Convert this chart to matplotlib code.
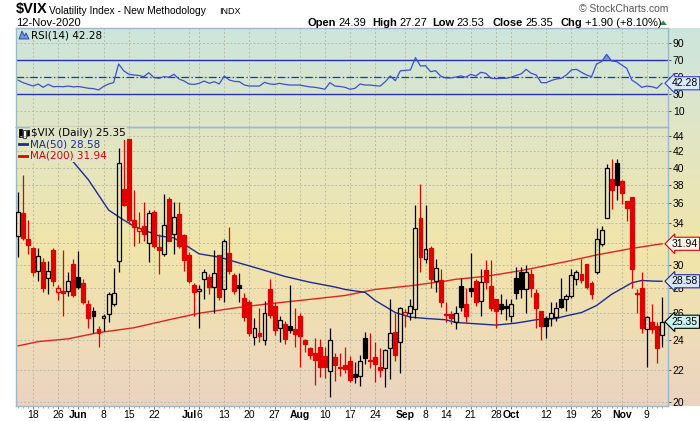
# -*- coding: utf-8 -*-
# $VIX daily candles with RSI(14), MA(50) and MA(200), StockCharts style

import numpy as np
import pandas as pd
import matplotlib
matplotlib.use('Agg')
import matplotlib.pyplot as plt
from matplotlib.ticker import FixedLocator, FixedFormatter, NullLocator

# trading days on the chart (13-May-2020 .. 12-Nov-2020)
holidays = ['2020-05-25', '2020-07-03', '2020-09-07']
days = pd.bdate_range('2020-05-13', '2020-11-12')
days = days[~days.isin(pd.to_datetime(holidays))]

opens = [32.7, 35.0, 32.4, 31.5, 29.5, 30.3, 28.9, 31.4, 27.7, 27.75,
         27.8, 30.1, 28.95, 28.4, 26.75, 26.2, 24.8, 25.6, 25.95, 26.75,
         30.35, 37.6, 43.6, 34.3, 33.2, 33.7, 32.0, 35.1, 31.6, 31.0,
         36.5, 32.9, 34.9, 32.8, 30.9, 28.3, 27.8, 28.8, 28.95, 28.1,
         30.9, 27.9, 31.1, 29.1, 28.3, 27.2, 26.9, 24.2, 24.55, 24.0,
         27.9, 26.6, 24.85, 25.2, 25.07, 24.8, 25.75, 24.05, 23.45, 23.1,
         23.5, 22.9, 21.9, 22.85, 22.2, 22.3, 22.55, 21.7, 21.6, 24.15,
         22.6, 22.85, 22.15, 22.1, 23.45, 24.6, 23.85, 25.9, 26.05, 26.3,
         34.5, 30.5, 31.55, 28.6, 28.7, 25.9, 25.95, 25.3, 28.15, 26.7,
         28.05, 28.6, 26.95, 29.55, 28.2, 27.15, 26.75, 26.6, 25.75, 28.9,
         29.35, 27.95, 29.2, 27.6, 26.2, 25.6, 25.6, 25.7, 27.1, 27.15,
         27.35, 28.8, 29.2, 30.1, 28.45, 29.35, 31.9, 34.5, 38.7, 40.6,
         38.5, 36.3, 36.7, 27.6, 28.0, 24.8, 25.35, 25.07, 24.39]
highs = [37.2, 39.2, 34.3, 31.6, 31.5, 30.6, 30.35, 31.5, 28.3, 31.4,
         29.4, 30.5, 31.25, 28.8, 27.0, 26.45, 25.07, 25.95, 27.7, 29.7,
         42.4, 43.6, 43.6, 37.5, 35.1, 36.2, 35.3, 35.3, 32.85, 37.0,
         36.7, 36.2, 36.2, 32.85, 31.2, 28.45, 28.3, 29.65, 29.2, 31.4,
         30.9, 32.4, 33.6, 29.3, 29.3, 27.6, 27.0, 25.65, 26.4, 26.95,
         28.8, 26.9, 25.75, 25.4, 28.3, 26.4, 26.05, 24.1, 23.5, 24.15,
         24.1, 23.5, 24.9, 23.1, 23.1, 23.5, 22.9, 22.5, 23.0, 24.6,
         24.5, 23.85, 23.45, 23.35, 27.15, 26.05, 26.5, 26.35, 27.1, 35.85,
         38.15, 35.85, 31.7, 30.5, 29.6, 26.9, 26.2, 26.6, 28.9, 28.05,
         31.1, 28.8, 29.65, 30.4, 30.4, 27.15, 27.5, 27.15, 27.15, 29.8,
         29.8, 29.95, 29.65, 27.95, 26.2, 25.75, 26.9, 26.9, 28.9, 27.55,
         29.6, 29.55, 30.5, 30.1, 28.6, 33.5, 33.7, 40.5, 41.0, 41.0,
         38.6, 36.3, 36.7, 27.95, 29.35, 25.75, 26.75, 25.3, 27.27]
lows = [30.7, 32.3, 31.0, 29.0, 28.6, 27.65, 27.55, 28.2, 27.0, 25.8,
        27.4, 27.3, 27.95, 26.7, 24.9, 24.5, 23.5, 24.7, 25.3, 26.6,
        29.4, 35.7, 33.9, 31.7, 32.0, 32.2, 30.3, 31.5, 29.2, 30.8,
        32.2, 31.0, 31.5, 29.5, 28.4, 25.8, 24.85, 27.15, 27.5, 26.05,
        27.0, 26.85, 29.2, 27.5, 26.9, 25.4, 24.3, 23.65, 23.85, 23.65,
        25.6, 24.4, 23.9, 23.7, 24.55, 23.5, 22.15, 23.2, 22.7, 21.0,
        21.5, 21.45, 20.3, 21.3, 21.6, 21.8, 21.2, 21.15, 20.95, 22.4,
        22.1, 21.2, 21.5, 20.9, 21.4, 22.6, 21.8, 24.95, 25.5, 25.6,
        29.35, 30.2, 28.05, 27.7, 26.5, 25.3, 25.2, 24.8, 26.2, 25.3,
        27.3, 26.6, 25.8, 27.95, 26.2, 24.85, 25.95, 25.5, 25.3, 27.15,
        27.2, 26.05, 27.3, 24.85, 24.0, 24.15, 25.07, 25.4, 26.4, 26.2,
        27.2, 28.3, 28.45, 27.9, 27.15, 29.2, 31.7, 34.5, 35.45, 36.35,
        35.95, 34.2, 28.0, 26.05, 24.55, 22.2, 24.5, 22.45, 23.53]
closes = [35.1, 32.5, 31.8, 29.4, 30.8, 28.0, 29.5, 28.6, 28.05, 27.6,
          28.6, 27.45, 28.1, 26.85, 25.6, 25.75, 24.55, 25.8, 27.55, 27.6,
          40.6, 35.85, 34.3, 33.6, 33.45, 32.9, 35.0, 31.7, 31.35, 33.8,
          32.25, 34.6, 31.7, 30.4, 28.6, 27.7, 27.95, 29.4, 28.1, 29.25,
          27.3, 32.2, 29.5, 27.75, 28.0, 25.7, 24.5, 24.85, 24.3, 26.05,
          25.85, 24.75, 25.45, 24.1, 24.75, 24.45, 24.3, 23.75, 23.0, 22.65,
          22.2, 22.15, 24.05, 22.3, 22.13, 22.05, 21.35, 21.5, 22.55, 22.75,
          22.55, 22.4, 22.0, 23.3, 24.5, 22.95, 26.4, 26.1, 26.6, 33.5,
          30.7, 31.45, 28.8, 29.7, 26.85, 25.85, 25.6, 26.05, 26.45, 25.8,
          27.75, 26.85, 28.55, 28.5, 26.4, 26.2, 26.3, 26.4, 26.7, 27.6,
          27.95, 29.4, 28.05, 26.4, 25.0, 25.05, 26.05, 26.4, 26.5, 27.4,
          29.1, 29.35, 28.65, 28.1, 27.55, 32.35, 33.3, 40.0, 37.5, 38.0,
          37.1, 35.5, 29.6, 27.55, 24.85, 25.7, 24.8, 23.45, 25.35]

ma50_idx = [6, 11, 14, 18, 20, 23, 28, 31, 34, 36, 40, 43, 48, 53, 58, 63, 65, 69,
            71, 75, 78, 81, 85, 87, 91, 95, 99, 103, 107, 109, 112, 115, 118, 122,
            124, 126, 128]
ma50_val = [45.3, 40.7, 38.6, 35.3, 34.6, 33.65, 32.7, 32.5, 31.6, 31.0, 30.7, 30.3,
            29.65, 29.0, 28.5, 28.1, 27.9, 27.65, 27.0, 26.05, 25.7, 25.6, 25.5, 25.3,
            25.2, 25.1, 25.25, 25.5, 25.6, 25.8, 26.05, 26.6, 27.5, 28.45, 28.65, 28.6,
            28.58]
ma200_idx = [0, 4, 10, 16, 23, 30, 36, 43, 49, 56, 65, 71, 78, 85, 87, 93, 100, 109,
             115, 122, 128]
ma200_val = [23.6, 23.9, 24.1, 24.55, 24.9, 25.5, 26.0, 26.4, 26.7, 27.0, 27.4, 27.9,
             28.2, 28.6, 28.75, 29.0, 29.5, 30.3, 30.9, 31.5, 31.94]

rsi = [46, 43, 41, 39, 41.4, 37.5, 41, 38.2, 38.5, 38.2,
       39, 38, 38.5, 37.5, 36.4, 36, 34.4, 38.5, 41.4, 43,
       65, 57, 53, 52, 51.5, 50, 54.7, 49, 48.1, 50,
       49.5, 52.8, 47.3, 45, 41.4, 41, 42.2, 44.9, 42.2, 44.1,
       41.5, 50.8, 46.1, 44.5, 44.1, 40.2, 39, 39, 39, 43.4,
       41.5, 41, 42.2, 41, 40.2, 40.2, 40.2, 39, 38, 37.5,
       36.5, 35.2, 43, 39, 38.5, 37.5, 35.2, 36.4, 41.4, 40.2,
       40.2, 39.4, 39, 44.1, 50.8, 45.3, 57, 57.5, 57.9, 72.4,
       62.6, 63, 55.9, 57, 50.8, 48.5, 48.5, 49.5, 51, 49.3,
       52.8, 50.8, 55.2, 54, 48.1, 47.8, 48, 48.1, 49.3, 51.5,
       53.2, 58.7, 54, 52, 43, 43, 45.5, 47.3, 48.1, 52,
       57.9, 58.7, 55.2, 52, 50, 65, 67.7, 76.3, 68.5, 67.7,
       63.8, 59.9, 46.1, 42.2, 37.5, 39, 38.2, 36.4, 42.28]

date_ticks = ['2020-05-18', '2020-05-26', '2020-06-01', '2020-06-08', '2020-06-15',
              '2020-06-22', '2020-07-01', '2020-07-06', '2020-07-13', '2020-07-20',
              '2020-07-27', '2020-08-03', '2020-08-10', '2020-08-17', '2020-08-24',
              '2020-09-01', '2020-09-08', '2020-09-14', '2020-09-21', '2020-09-28',
              '2020-10-01', '2020-10-12', '2020-10-19', '2020-10-26', '2020-11-02',
              '2020-11-09']
date_labels = ['18', '26', 'Jun', '8', '15', '22', 'Jul', '6', '13', '20', '27', 'Aug',
               '10', '17', '24', 'Sep', '8', '14', '21', '28', 'Oct', '12', '19', '26',
               'Nov', '9']
months = ['Jun', 'Jul', 'Aug', 'Sep', 'Oct', 'Nov']
price_ticks = [20, 22, 24, 26, 28, 30, 32, 34, 36, 38, 40, 42, 44]
rsi_ticks = [10, 30, 50, 70, 90]

W, H = 700, 421
RED = '#e00000'
NAVY = '#1c2a96'
SPINE = '#9db8c6'
GRID = '#bdbba4'
SANS = 'Liberation Sans'


def fx(px):
    return px / W


def fy(py):
    return 1 - py / H


fig = plt.figure(figsize=(W / 100, H / 100), dpi=100)

# background gradient (teal -> yellow -> peach)
ax_bg = fig.add_axes([fx(16), fy(406), (W - 16) / W, (406 - 28) / H], zorder=0)
rows = np.arange(28, 406)
stop_y = [28, 126, 250, 330, 406]
stop_c = np.array([[204, 229, 221], [224, 229, 198], [241, 229, 170],
                   [239, 221, 182], [235, 211, 194]]) / 255.0
grad = np.stack([np.interp(rows, stop_y, stop_c[:, k]) for k in range(3)], axis=1)
ax_bg.imshow(grad[:, None, :], aspect='auto', extent=[0, 1, 0, 1])
ax_bg.axis('off')

ax_rsi = fig.add_axes([fx(16), fy(126.5), 652 / W, (126.5 - 28) / H], zorder=1)
ax = fig.add_axes([fx(16), fy(406), 652 / W, (406 - 126.5) / H], zorder=1)

n = len(closes)
x = np.arange(n)
o = np.array(opens)
h = np.array(highs)
l = np.array(lows)
c = np.array(closes)
tick_pos = [days.get_loc(pd.Timestamp(d)) for d in date_ticks]

for a in (ax, ax_rsi):
    a.set_facecolor('none')
    a.set_xlim(-0.4, 129.2)
    for s in a.spines.values():
        s.set_color(SPINE)
        s.set_linewidth(1.0)
    a.set_xticks(tick_pos)
    a.set_xticks(x, minor=True)
    a.grid(True, axis='x', which='major', color=GRID, linestyle=(0, (2, 2)), lw=0.7)
    a.yaxis.tick_right()
    a.tick_params(axis='y', which='both', length=2, width=0.7, color='#555555',
                  pad=1.5, labelsize=7.5)

# ---- RSI panel ----
rsi_arr = np.array(rsi)
ax_rsi.set_ylim(-8.6, 107.3)
ax_rsi.yaxis.set_major_locator(FixedLocator(rsi_ticks))
ax_rsi.yaxis.set_major_formatter(FixedFormatter([str(v) for v in rsi_ticks]))
ax_rsi.grid(True, axis='y', color=GRID, linestyle=(0, (2, 2)), lw=0.7)
ax_rsi.tick_params(axis='x', which='both', length=0, labelbottom=False)
ax_rsi.axhline(70, color='#2233bb', lw=1.0)
ax_rsi.axhline(30, color='#2233bb', lw=1.0)
ax_rsi.axhline(50, color='#2233bb', lw=0.9, linestyle=(0, (6, 2, 1, 2)))
ax_rsi.fill_between(x, rsi_arr, 70, where=rsi_arr > 70, interpolate=True,
                    color='#6c9bd6', lw=0)
ax_rsi.plot(x, rsi_arr, color='#3b4fd4', lw=0.9)
for t in ax_rsi.get_yticklabels():
    t.set_family(SANS)

# ---- price panel ----
ax.set_yscale('log')
ax.set_ylim(19.75, 45.21)
ax.yaxis.set_major_locator(FixedLocator(price_ticks))
ax.yaxis.set_major_formatter(FixedFormatter([str(v) for v in price_ticks]))
ax.yaxis.set_minor_locator(NullLocator())
ax.grid(True, axis='y', which='major', color=GRID, linestyle=(0, (2, 2)), lw=0.7)
ax.tick_params(axis='x', which='major', length=2, width=0.7, color='#777777',
               labelsize=7.5, pad=0.8)
ax.tick_params(axis='x', which='minor', length=1.5, width=0.6, color='#999999')
ax.set_xticklabels(date_labels)
for t in ax.get_xticklabels():
    t.set_family(SANS)
    if t.get_text() in months:
        t.set_fontweight('bold')
for t in ax.get_yticklabels():
    t.set_family(SANS)

ax.plot(ma200_idx, ma200_val, color='#e42222', lw=1.0, zorder=2)
ax.plot(ma50_idx, ma50_val, color=NAVY, lw=1.0, zorder=2)

prev = np.r_[c[0], c[:-1]]
col = np.where(c >= prev, 'black', RED)
hollow = c > o
top = np.maximum(o, c)
bot = np.minimum(o, c)
ax.vlines(x, top, h, colors=col, lw=0.9, zorder=3)
ax.vlines(x, l, bot, colors=col, lw=0.9, zorder=3)
face = [('none' if hl else cc) for hl, cc in zip(hollow, col)]
ax.bar(x, np.maximum(top - bot, 0.06), bottom=bot, width=0.78, color=face,
       edgecolor=list(col), linewidth=0.9, zorder=3)

# legend rows (opaque, like the original)
leg_bg = '#e0e4c6'
leg_font = dict(family='DejaVu Sans', fontsize=7.5, va='center', ha='left',
                zorder=5)
fig.text(fx(31), fy(133.5), '$VIX (Daily) 25.35', color='black',
         bbox=dict(facecolor=leg_bg, edgecolor='none', pad=1.0), **leg_font)
fig.text(fx(30), fy(144.5), 'MA(50) 28.58', color=NAVY,
         bbox=dict(facecolor=leg_bg, edgecolor='none', pad=1.0), **leg_font)
fig.text(fx(30), fy(155.5), 'MA(200) 31.94', color=RED,
         bbox=dict(facecolor=leg_bg, edgecolor='none', pad=1.0), **leg_font)
fig.add_artist(plt.Line2D([fx(19), fx(28)], [fy(144.5), fy(144.5)], color=NAVY, lw=2))
fig.add_artist(plt.Line2D([fx(19), fx(28)], [fy(155.5), fy(155.5)], color=RED, lw=2))
fig.text(fx(31), fy(35), 'RSI(14) 42.28', color='black', family='DejaVu Sans',
         fontsize=7.5, va='center', ha='left')

# small panel icons
for xi, y0, y1, fill in [(20.5, 129, 137, True), (24.5, 130, 138, False), (28.0, 130, 136, True)]:
    fig.add_artist(plt.Rectangle((fx(xi - 1.2), fy(y1)), 2.4 / W, (y1 - y0) / H,
                                 facecolor='black' if fill else 'white',
                                 edgecolor='black', lw=0.5))
fig.add_artist(plt.Polygon([[fx(19), fy(39)], [fx(22), fy(31)], [fx(24.5), fy(36)],
                            [fx(26), fy(33)], [fx(29), fy(39)]],
                           facecolor='#6c9bd6', edgecolor='#2233bb', lw=0.6))

# value tags on the right edge
tag = dict(ha='left', va='center', fontsize=7.5, family=SANS, zorder=6, clip_on=False)
ax_rsi.text(1.006, 42.28, '42.28', transform=ax_rsi.get_yaxis_transform(),
            bbox=dict(boxstyle='larrow,pad=0.15', facecolor='#dbe8f8',
                      edgecolor='#3344cc', lw=0.8), **tag)
ax.text(1.006, 31.94, '31.94', transform=ax.get_yaxis_transform(),
        bbox=dict(boxstyle='larrow,pad=0.15', facecolor='#f6f4ea',
                  edgecolor=RED, lw=0.8), **tag)
ax.text(1.006, 28.58, '28.58', transform=ax.get_yaxis_transform(),
        bbox=dict(boxstyle='larrow,pad=0.15', facecolor='#d6e6f6',
                  edgecolor=NAVY, lw=0.8), **tag)
ax.text(1.006, 25.35, '25.35', transform=ax.get_yaxis_transform(),
        bbox=dict(boxstyle='larrow,pad=0.15', facecolor='#c8f0ee',
                  edgecolor='black', lw=0.8), **tag)

# header
fig.text(fx(16), fy(13.5), '$VIX', fontsize=10.5, fontweight='bold', family=SANS)
fig.text(fx(49), fy(13.5), 'Volatility Index - New Methodology', fontsize=7.4, family=SANS)
fig.text(fx(219), fy(13.5), 'INDX', fontsize=6.5, family=SANS)
fig.text(fx(16), fy(26), '12-Nov-2020', fontsize=8, family=SANS)
fig.text(fx(668), fy(12.5), '\u00a9 StockCharts.com', fontsize=7.5, family=SANS,
         color='#555555', ha='right')
pieces = [(307, 'Open', True), (338, '24.39', False), (372.5, 'High', True),
          (399, '27.27', False), (432.5, 'Low', True), (456.5, '23.53', False),
          (492.5, 'Close', True), (525, '25.35', False), (560.5, 'Chg', True),
          (585, '+1.90 (+8.10%)', False)]
for px, s, bold in pieces:
    fig.text(fx(px), fy(26), s, fontsize=8, family=SANS,
             fontweight='bold' if bold else 'normal')
fig.add_artist(plt.Polygon([[fx(659.5), fy(25)], [fx(667), fy(25)], [fx(663.2), fy(20.5)]],
                           facecolor='#2e8b3a', edgecolor='none'))

fig.savefig('out.png', dpi=100)
